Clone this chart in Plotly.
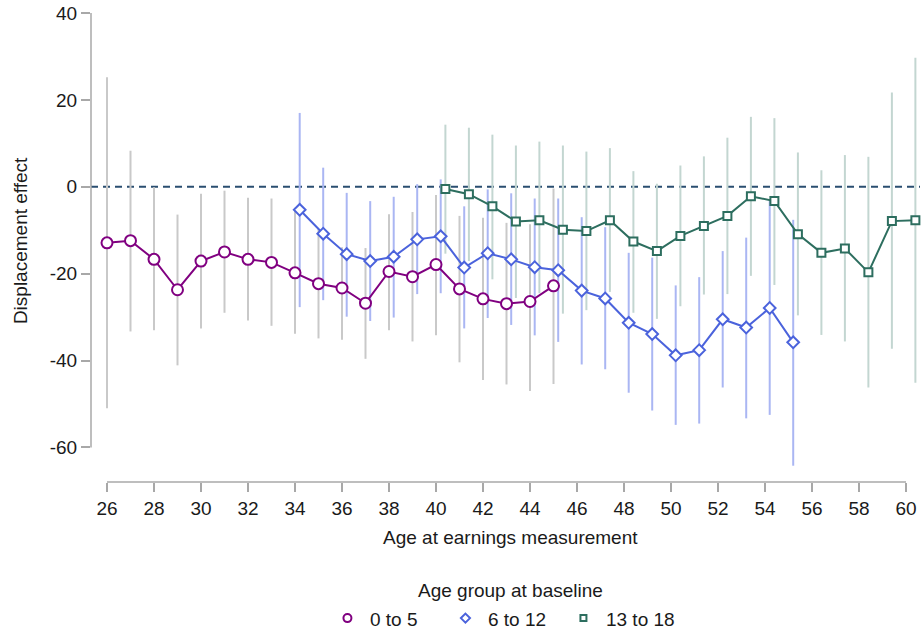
import plotly.graph_objects as go

# Age at earnings measurement (integer years) for each baseline age group
ages_0_5 = list(range(26, 46))
ages_6_12 = list(range(34, 56))
ages_13_18 = list(range(40, 61))

# Point estimates and 95% confidence bounds
est_0_5 = [-12.9, -12.4, -16.7, -23.7, -17.1, -15.0, -16.7, -17.4, -19.8, -22.3,
           -23.3, -26.8, -19.5, -20.7, -17.9, -23.5, -25.8, -26.9, -26.4, -22.8]
lo_0_5 = [-51.0, -33.3, -33.0, -41.1, -32.6, -29.0, -30.8, -32.0, -33.8, -34.9,
          -35.2, -39.6, -33.0, -35.6, -34.2, -40.4, -44.5, -45.5, -47.0, -45.4]
hi_0_5 = [25.2, 8.3, -0.1, -6.4, -1.6, -0.9, -2.5, -2.7, -4.8, -9.7,
          -13.9, -14.1, -6.3, -5.8, -1.9, -6.7, -7.1, -8.3, -8.6, -0.4]

est_6_12 = [-5.3, -10.8, -15.5, -17.1, -16.1, -12.1, -11.4, -18.6, -15.3, -16.7, -18.5,
            -19.2, -23.9, -25.7, -31.3, -33.9, -38.8, -37.6, -30.5, -32.4, -27.9, -35.8]
lo_6_12 = [-27.7, -26.1, -29.9, -30.9, -30.1, -24.7, -24.5, -32.6, -30.2, -31.8, -34.2,
           -35.7, -40.9, -42.0, -47.4, -51.5, -54.8, -54.5, -46.2, -53.3, -52.5, -64.2]
hi_6_12 = [17.0, 4.4, -1.4, -3.3, -2.3, 0.6, 1.7, -4.5, -0.6, -1.5, -2.7,
           -2.7, -7.0, -9.3, -15.2, -16.3, -22.7, -20.8, -14.8, -11.7, -3.3, -7.6]

est_13_18 = [-0.5, -1.7, -4.5, -8.0, -7.7, -9.9, -10.2, -7.7, -12.6, -14.8, -11.3,
             -9.0, -6.7, -2.2, -3.3, -10.9, -15.2, -14.2, -19.7, -7.9, -7.7]
lo_13_18 = [-15.4, -17.1, -21.3, -25.6, -24.5, -29.2, -28.4, -24.2, -29.0, -30.4, -27.5,
            -24.8, -24.7, -20.5, -22.6, -29.6, -34.1, -35.6, -46.2, -37.3, -45.1]
hi_13_18 = [14.3, 13.6, 12.0, 9.5, 10.4, 9.5, 8.1, 8.9, 3.6, 0.7, 4.9,
            7.0, 11.3, 16.1, 15.8, 7.9, 3.8, 7.3, 6.9, 21.7, 29.7]

group_names = ["0 to 5", "6 to 12", "13 to 18"]
x_ticks = list(range(26, 61, 2))
y_ticks = [-60, -40, -20, 0, 20, 40]
y_tick_labels = ["-60", "-40", "-20", "0", "20", "40"]

FONT = "Liberation Sans, Arial, Helvetica, sans-serif"
TEXT = "#1a1a1a"
AXIS = "#a8a8a8"

groups = [
    dict(ages=ages_0_5, est=est_0_5, lo=lo_0_5, hi=hi_0_5, dodge=0.0,
         color="#800080", ci="#c9c9c9", symbol="circle", size=11, key_size=8),
    dict(ages=ages_6_12, est=est_6_12, lo=lo_6_12, hi=hi_6_12, dodge=0.2,
         color="#4b63dc", ci="#aab6f3", symbol="diamond", size=9, key_size=7),
    dict(ages=ages_13_18, est=est_13_18, lo=lo_13_18, hi=hi_13_18, dodge=0.4,
         color="#2d6e5f", ci="#c3d6d1", symbol="square", size=8, key_size=6),
]

fig = go.Figure()

# confidence-interval spikes
for g in groups:
    xs, ys = [], []
    for a, lo, hi in zip(g["ages"], g["lo"], g["hi"]):
        xs += [a + g["dodge"], a + g["dodge"], None]
        ys += [lo, hi, None]
    fig.add_trace(go.Scatter(x=xs, y=ys, mode="lines", showlegend=False,
                             line=dict(color=g["ci"], width=2), hoverinfo="skip",
                             cliponaxis=False))

# connected point estimates (hollow markers)
for g, name in zip(groups, group_names):
    fig.add_trace(go.Scatter(
        x=[a + g["dodge"] for a in g["ages"]], y=g["est"], mode="lines+markers",
        name=name, showlegend=False, cliponaxis=False,
        line=dict(color=g["color"], width=2),
        marker=dict(symbol=g["symbol"], size=g["size"],
                    color="white", line=dict(color=g["color"], width=2))))

# legend keys (markers only)
for g, name in zip(groups, group_names):
    fig.add_trace(go.Scatter(
        x=[None], y=[None], mode="markers", name=name,
        marker=dict(symbol=g["symbol"], size=g["key_size"],
                    color="white", line=dict(color=g["color"], width=2))))

shapes = [
    # zero reference line
    dict(type="line", xref="paper", x0=0, x1=1, yref="y", y0=0, y1=0,
         line=dict(color="#2a4e70", width=2, dash="7px,5px"), layer="below"),
    # detached axis lines
    dict(type="line", xref="paper", x0=0, x1=0, yref="y", y0=-60, y1=40,
         line=dict(color=AXIS, width=1.5)),
    dict(type="line", xref="x", x0=26, x1=60, yref="paper", y0=0, y1=0,
         line=dict(color=AXIS, width=1.5)),
]

annotations = [
    dict(text="Age at earnings measurement", xref="paper", yref="paper",
         x=0.5066, y=-0.118, xanchor="center", yanchor="middle", showarrow=False,
         font=dict(family=FONT, size=19, color=TEXT)),
    dict(text="Displacement effect", xref="paper", yref="paper",
         x=-0.0856, y=0.5137, xanchor="center", yanchor="middle", textangle=-90,
         showarrow=False, font=dict(family=FONT, size=19, color=TEXT)),
    dict(text="Age group at baseline", xref="paper", yref="paper",
         x=0.5066, y=-0.2316, xanchor="center", yanchor="middle", showarrow=False,
         font=dict(family=FONT, size=19, color=TEXT)),
]

fig.update_layout(
    width=922, height=639,
    margin=dict(l=91, r=2, t=13, b=151),
    paper_bgcolor="white", plot_bgcolor="white",
    font=dict(family=FONT, size=19, color=TEXT),
    shapes=shapes, annotations=annotations,
    xaxis=dict(range=[25.319, 60.596], tickvals=x_ticks, showgrid=False,
               zeroline=False, showline=False, ticks="outside", ticklen=9,
               tickwidth=1.5, tickcolor=AXIS, tickfont=dict(size=19)),
    yaxis=dict(range=[-67.95, 40], tickvals=y_ticks, ticktext=y_tick_labels,
               showgrid=False, zeroline=False, showline=False, ticks="outside",
               ticklen=9, tickwidth=1.5, tickcolor=AXIS, tickfont=dict(size=19)),
    legend=dict(orientation="h", x=0.4957, xanchor="center", y=-0.2905,
                yanchor="middle", itemwidth=35, entrywidth=68,
                font=dict(size=19), bgcolor="rgba(0,0,0,0)"),
    showlegend=True,
)

fig.write_html("out.html")
